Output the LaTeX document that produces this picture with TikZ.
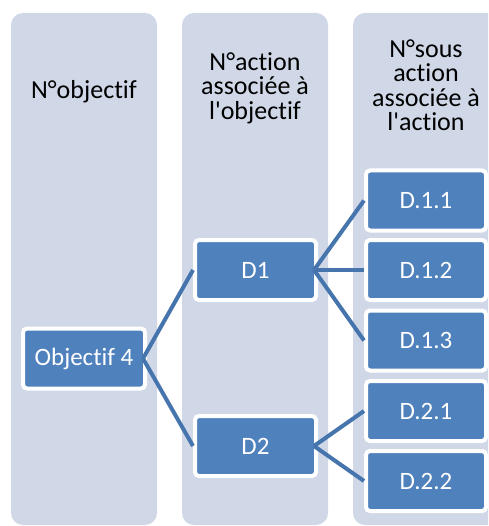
\documentclass[tikz,border=0pt]{standalone}
\usepackage{fontspec}
\newfontfamily\carl{Carlito}[RawFeature={-liga;-clig}]
\definecolor{colbg}{HTML}{D0D8E8}
\definecolor{boxbg}{HTML}{4F81BD}
\definecolor{linkc}{HTML}{4674AC}
\begin{document}
\begin{tikzpicture}[x=1pt,y=-1pt,
  column/.style={fill=colbg,rounded corners=12pt},
  header/.style={align=center,font=\carl\fontsize{26}{24.5}\selectfont,text=black,inner sep=0pt},
  itembox/.style={fill=boxbg,draw=white,line width=4pt,rounded corners=4pt,outer sep=0pt,
     minimum height=60pt,inner sep=0pt,text=white,font=\carl\fontsize{25}{28}\selectfont},
  link/.style={draw=linkc,line width=4pt}]
\clip (0,0) rectangle (488,526);
\fill[white] (0,0) rectangle (488,526);
% columns
\path[column] (11,13) rectangle (157,525);
\path[column] (182,13) rectangle (328,525);
\path[column] (353,13) rectangle (499,525);
% headers
\node[header] (h1) at (84,92) {N°objectif};
\node[header] (h2) at (255,88) {N°action\\associée à\\l'objectif};
\node[header] (h3) at (426,85) {N°sous\\action\\associée à\\l'action};
% boxes
\node[itembox,minimum width=122pt] (obj) at (84,358.5) {Objectif 4};
\node[itembox,minimum width=121pt] (d1) at (255.5,270) {D1};
\node[itembox,minimum width=121pt] (d2) at (255.5,446) {D2};
\node[itembox,minimum width=120pt] (d11) at (426,200.5) {D.1.1};
\node[itembox,minimum width=120pt] (d12) at (426,270) {D.1.2};
\node[itembox,minimum width=120pt] (d13) at (426,340.5) {D.1.3};
\node[itembox,minimum width=120pt] (d21) at (426,411) {D.2.1};
\node[itembox,minimum width=120pt] (d22) at (426,481) {D.2.2};
% links
\foreach \p/\c in {obj/d1,obj/d2,d1/d11,d1/d12,d1/d13,d2/d21,d2/d22}{
  \draw[link] ([xshift=-2pt]\p.east) -- ([xshift=-2pt]\c.west);
}
\end{tikzpicture}
\end{document}
